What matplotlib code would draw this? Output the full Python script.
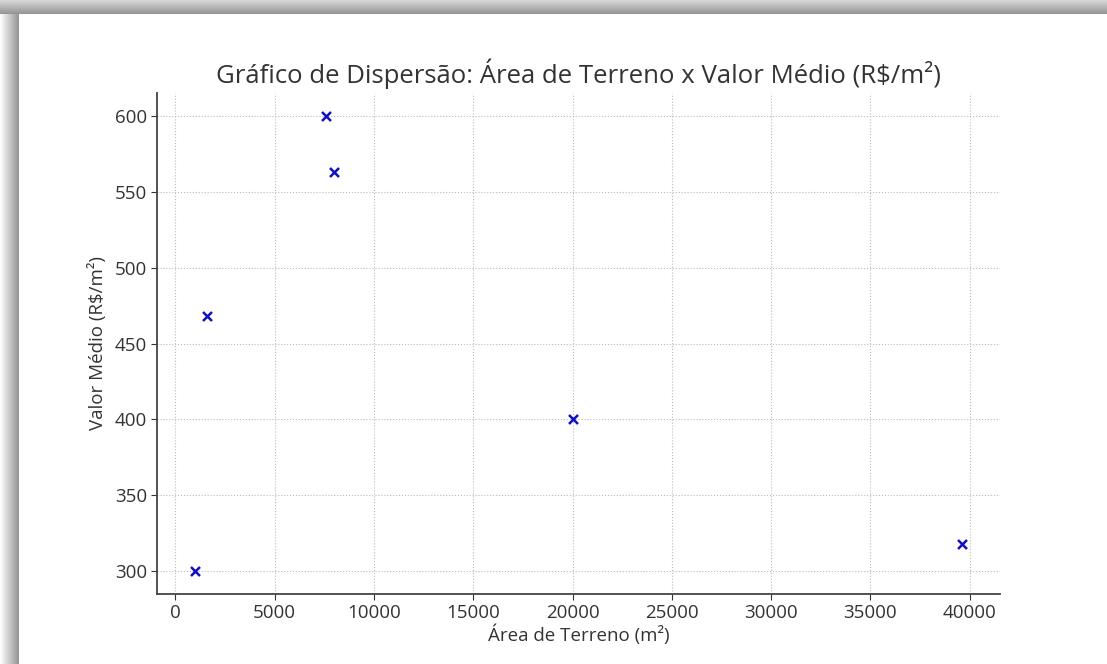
import numpy as np
import matplotlib
matplotlib.use("Agg")
import matplotlib.pyplot as plt

plt.rcParams['font.family'] = ['Open Sans', 'DejaVu Sans']

area = [1000, 1600, 7600, 8000, 20000, 39600]
valor = [300, 468, 600, 563, 400, 318]

title = "Gráfico de Dispersão: Área de Terreno x Valor Médio (R$/m²)"
xlabel = "Área de Terreno (m²)"
ylabel = "Valor Médio (R$/m²)"

W, H = 1107, 664
fig = plt.figure(figsize=(W / 100, H / 100), dpi=100)
fig.patch.set_facecolor('white')

# decorative frame (gradient borders)
left_w, top_h = 19, 14
axl = fig.add_axes([0, 0, left_w / W, 1])
gl = np.linspace(1.0, 0.58, 64)[None, :]
axl.imshow(gl, cmap='gray', vmin=0, vmax=1, aspect='auto', extent=[0, 1, 0, 1])
axl.axis('off')
axt = fig.add_axes([0, 1 - top_h / H, 1, top_h / H])
gt = np.linspace(0.85, 0.58, 64)[:, None]
axt.imshow(gt, cmap='gray', vmin=0, vmax=1, aspect='auto', extent=[0, 1, 0, 1])
axt.axis('off')

ax = fig.add_axes([157 / W, 1 - 594 / H, (1000 - 157) / W, (594 - 93) / H])
ax.scatter(area, valor, marker='x', color='#1010c0', s=42, linewidths=1.8, zorder=3)
ax.set_title(title, fontsize=18.5, color='#333333', pad=7)
ax.set_xlabel(xlabel, fontsize=13.5, color='#333333', labelpad=2)
ax.set_ylabel(ylabel, fontsize=13.5, color='#333333', labelpad=6)
ax.set_xticks(np.arange(0, 40001, 5000))
ax.set_yticks(np.arange(300, 601, 50))
ax.tick_params(labelsize=13.5, colors='#333333', length=4, pad=3)
ax.grid(True, linestyle=':', color='#bbbbbb', linewidth=0.8)
ax.set_axisbelow(True)
for s in ['top', 'right']:
    ax.spines[s].set_visible(False)
for s in ['left', 'bottom']:
    ax.spines[s].set_color('#444444')
    ax.spines[s].set_linewidth(1.3)

fig.savefig('out.png', dpi=100)
